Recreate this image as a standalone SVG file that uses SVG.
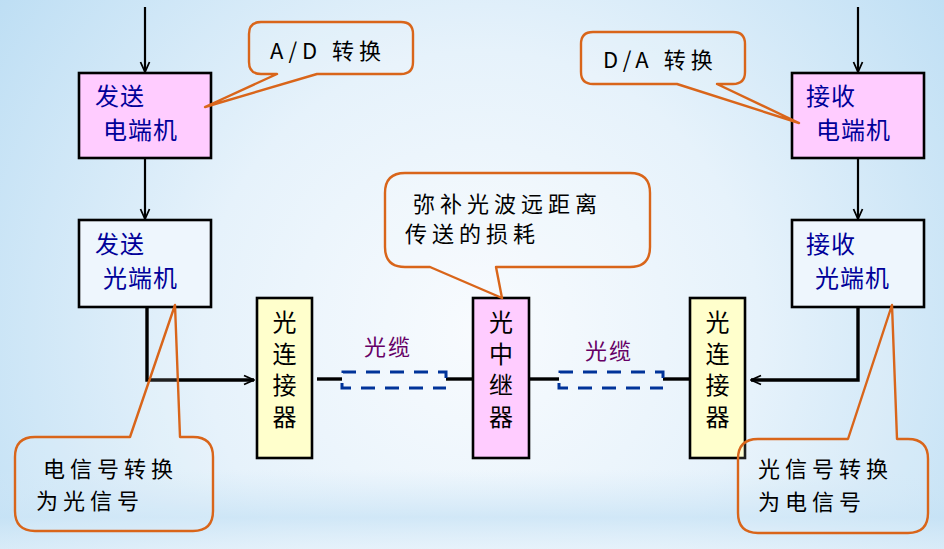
<svg xmlns="http://www.w3.org/2000/svg" width="944" height="549" viewBox="0 0 944 549">
<defs>
<radialGradient id="bg" cx="480" cy="330" r="620" gradientUnits="userSpaceOnUse">
<stop offset="0" stop-color="#f8fbfe"/>
<stop offset="0.45" stop-color="#e6f2fb"/>
<stop offset="1" stop-color="#b9dcf3"/>
</radialGradient>
<linearGradient id="band" x1="0" y1="470" x2="0" y2="549" gradientUnits="userSpaceOnUse">
<stop offset="0" stop-color="#cfe6f6" stop-opacity="0"/>
<stop offset="0.6" stop-color="#c6e2f5" stop-opacity="0.7"/>
<stop offset="1" stop-color="#e4f1fa" stop-opacity="0.6"/>
</linearGradient>
<marker id="arr" viewBox="0 0 12 12" refX="11" refY="6" markerWidth="12" markerHeight="12" markerUnits="userSpaceOnUse" orient="auto">
<path d="M1,1.5 L11,6 L1,10.5" fill="none" stroke="#000" stroke-width="1.8"/>
</marker>
</defs>
<style>
.box{stroke:#000;stroke-width:2.6}
.pink{fill:#ffccff}
.light{fill:#eef6fd}
.yel{fill:#ffffcc}
.bt{font-family:"Noto Sans CJK SC","Liberation Sans",sans-serif;font-size:24px;fill:#000099;letter-spacing:1px}
.ct{font-family:"Noto Sans CJK SC","Liberation Sans",sans-serif;font-size:22px;fill:#000;letter-spacing:5px}
.vt{font-family:"Noto Sans CJK SC","Liberation Sans",sans-serif;font-size:24px;fill:#000;writing-mode:vertical-rl;letter-spacing:7.5px}
.cab{font-family:"Noto Sans CJK SC","Liberation Sans",sans-serif;font-size:22px;fill:#660066;letter-spacing:2px}
.call{fill:#ffffff;fill-opacity:0.12;stroke:#d9651a;stroke-width:2.4;stroke-linejoin:round}
.ln{fill:none;stroke:#000;stroke-width:2.2}
.lnb{fill:none;stroke:#000;stroke-width:3.4}
.dash{fill:none;stroke:#003399;stroke-width:3;stroke-dasharray:14 10}
</style>
<rect width="944" height="549" fill="url(#bg)"/>
<rect y="470" width="944" height="79" fill="url(#band)"/>

<g id="connectors">
<path class="ln" d="M145,7 V72" marker-end="url(#arr)"/>
<path class="ln" d="M145,158 V219" marker-end="url(#arr)"/>
<path class="lnb" d="M147,307 V380 H254" marker-end="url(#arr)"/>
<path class="ln" d="M858,7 V72" marker-end="url(#arr)"/>
<path class="ln" d="M858,158 V219" marker-end="url(#arr)"/>
<path class="lnb" d="M858,307 V380 H751" marker-end="url(#arr)"/>
<path class="lnb" d="M317,379 H342"/>
<path class="lnb" d="M446,379 H473"/>
<path class="lnb" d="M529,379 H559"/>
<path class="lnb" d="M663,379 H689"/>
<g id="cable1">
<path class="dash" d="M343,379 V372 H446 V379" stroke-dashoffset="-6"/>
<path class="dash" d="M342,379 V388 H446" stroke-dashoffset="-4"/>
<text class="cab" x="364" y="355">光缆</text>
</g>
<g id="cable2">
<path class="dash" d="M560,379 V372 H663 V379" stroke-dashoffset="-6"/>
<path class="dash" d="M559,379 V388 H663" stroke-dashoffset="-4"/>
<text class="cab" x="585" y="359">光缆</text>
</g>
</g>

<g id="tx-elec">
<rect class="box pink" x="79" y="73" width="132" height="85"/>
<text class="bt" x="95" y="105">发送</text>
<text class="bt" x="103" y="139">电端机</text>
</g>
<g id="tx-opt">
<rect class="box light" x="79" y="220" width="132" height="87"/>
<text class="bt" x="95" y="253">发送</text>
<text class="bt" x="103" y="287">光端机</text>
</g>
<g id="rx-elec">
<rect class="box pink" x="792" y="73" width="132" height="85"/>
<text class="bt" x="806" y="105">接收</text>
<text class="bt" x="816" y="139">电端机</text>
</g>
<g id="rx-opt">
<rect class="box light" x="792" y="220" width="132" height="87"/>
<text class="bt" x="806" y="253">接收</text>
<text class="bt" x="815" y="287">光端机</text>
</g>
<g id="conn-left">
<rect class="box yel" x="257" y="298" width="55" height="160"/>
<text class="vt" x="284.5" y="310">光连接器</text>
</g>
<g id="repeater">
<rect class="box pink" x="473" y="298" width="56" height="160"/>
<text class="vt" x="501" y="310">光中继器</text>
</g>
<g id="conn-right">
<rect class="box yel" x="690" y="298" width="55" height="160"/>
<text class="vt" x="717.5" y="310">光连接器</text>
</g>

<g id="callout-ad">
<path class="call" d="M261,22 H401 Q413,22 413,34 V62 Q413,74 401,74 H317 L205,107 L277,74 H261 Q249,74 249,62 V34 Q249,22 261,22 Z"/>
<text class="ct" x="270" y="59" letter-spacing="3">A/D 转换</text>
</g>
<g id="callout-da">
<path class="call" d="M593,32 H733 Q745,32 745,44 V72 Q745,84 733,84 H717 L799,123 L677,84 H593 Q581,84 581,72 V44 Q581,32 593,32 Z"/>
<text class="ct" x="603" y="68" letter-spacing="3">D/A 转换</text>
</g>
<g id="callout-rep">
<path class="call" d="M405,173 H630 Q650,173 650,193 V247 Q650,267 630,267 H496 L502,298 L430,267 H405 Q385,267 385,247 V193 Q385,173 405,173 Z"/>
<text class="ct" x="413" y="212">弥补光波远距离</text>
<text class="ct" x="405" y="242">传送的损耗</text>
</g>
<g id="callout-eo">
<path class="call" d="M35,437 H130 L175,305 L180,437 H193 Q213,437 213,457 V511 Q213,531 193,531 H35 Q15,531 15,511 V457 Q15,437 35,437 Z"/>
<text class="ct" x="43" y="477">电信号转换</text>
<text class="ct" x="36" y="509">为光信号</text>
</g>
<g id="callout-oe">
<path class="call" d="M758,439 H848 L892,305 L897,439 H908 Q928,439 928,459 V513 Q928,533 908,533 H758 Q738,533 738,513 V459 Q738,439 758,439 Z"/>
<text class="ct" x="758" y="477">光信号转换</text>
<text class="ct" x="758" y="510">为电信号</text>
</g>
</svg>
